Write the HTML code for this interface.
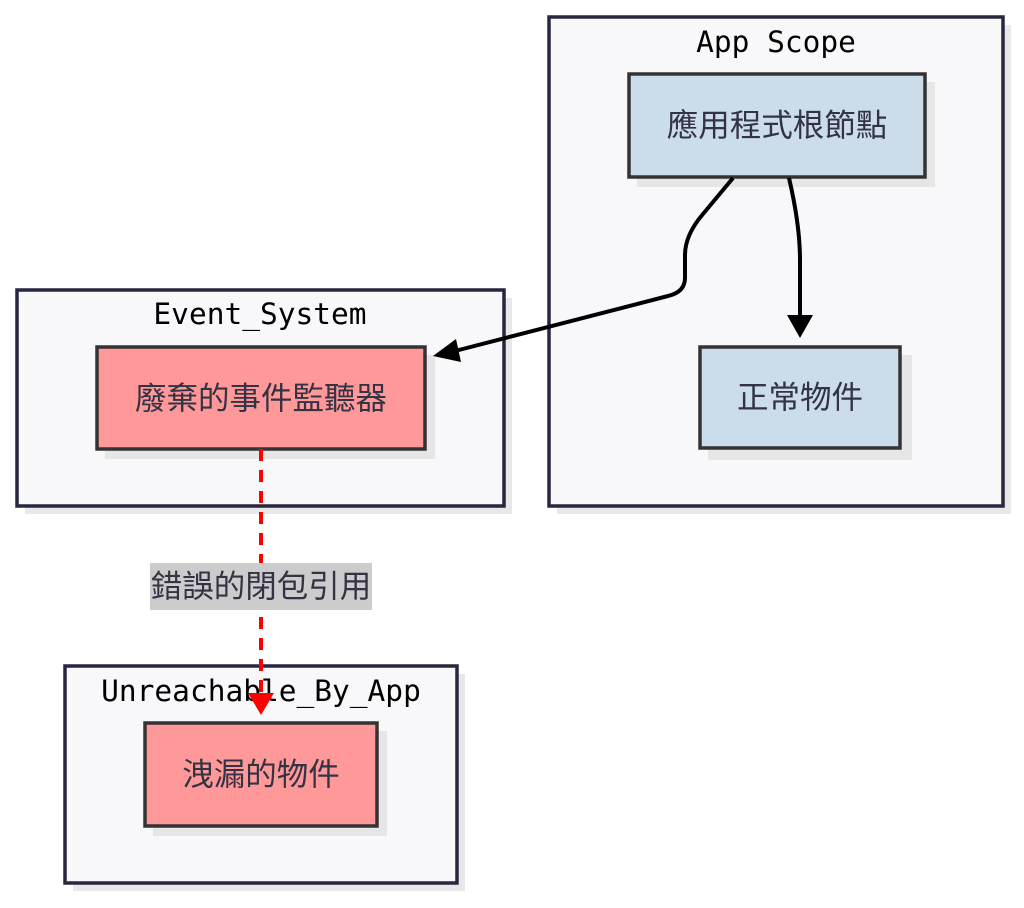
<!DOCTYPE html>
<html><head><meta charset="utf-8"><style>
html,body{margin:0;padding:0;background:#fff;}
</style></head><body>
<svg width="1024" height="903" viewBox="0 0 1024 903" xmlns="http://www.w3.org/2000/svg">
<g fill="#e8e8e8">
<rect x="557" y="25" width="454" height="489"/>
<rect x="25" y="298" width="487" height="216"/>
<rect x="73" y="674" width="392" height="217"/>
</g>
<g fill="#f8f8fa" stroke="#27273f" stroke-width="3.5">
<rect x="549" y="17" width="454" height="489"/>
<rect x="17" y="290" width="487" height="216"/>
<rect x="65" y="666" width="392" height="217"/>
</g>
<g font-family="DejaVu Sans Mono, Liberation Mono, monospace" font-size="29.5" fill="#000" text-anchor="middle">
<text x="776" y="52">App Scope</text>
<text x="260" y="324">Event_System</text>
</g>
<g fill="#e6e6e6">
<rect x="637" y="82" width="298" height="105"/>
<rect x="708" y="355" width="204" height="105"/>
<rect x="105" y="355" width="330" height="104"/>
<rect x="153" y="731" width="234" height="105"/>
</g>
<g stroke="#333" stroke-width="3.5">
<rect x="629" y="74" width="296" height="103" fill="#cbdcea"/>
<rect x="700" y="347" width="200" height="101" fill="#cbdcea"/>
<rect x="97" y="347" width="328" height="102" fill="#ff9999"/>
<rect x="145" y="723" width="232" height="103" fill="#ff9999"/>
</g>
<g font-family="Noto Sans CJK TC, sans-serif" font-size="31.5" fill="#333344" text-anchor="middle">
<text x="777" y="136">應用程式根節點</text>
<text x="800" y="408">正常物件</text>
<text x="261" y="409">廢棄的事件監聽器</text>
<text x="261" y="785">洩漏的物件</text>
</g>
<path d="M733,178 L703,214 Q685,235 685,255 L685,278 Q685,292 668,296 L455,351" fill="none" stroke="#000" stroke-width="4"/>
<polygon points="433,356 456,339 461,362" fill="#000"/>
<path d="M789,178 Q800,225 800,260 L800,315" fill="none" stroke="#000" stroke-width="4"/>
<polygon points="787,315 813,315 800,338" fill="#000"/>
<line x1="261" y1="449" x2="261" y2="700" stroke="#ff0000" stroke-width="4" stroke-dasharray="12,9"/>
<rect x="150" y="563" width="222" height="47" fill="#cccccc"/>
<text x="261" y="597" font-family="Noto Sans CJK TC, sans-serif" font-size="31.5" fill="#333344" text-anchor="middle">錯誤的閉包引用</text>
<text x="261" y="701" font-family="DejaVu Sans Mono, Liberation Mono, monospace" font-size="29.5" fill="#000" text-anchor="middle">Unreachable_By_App</text>
<polygon points="248,693 274,693 261,715" fill="#ff0000"/>
</svg>
</body></html>
